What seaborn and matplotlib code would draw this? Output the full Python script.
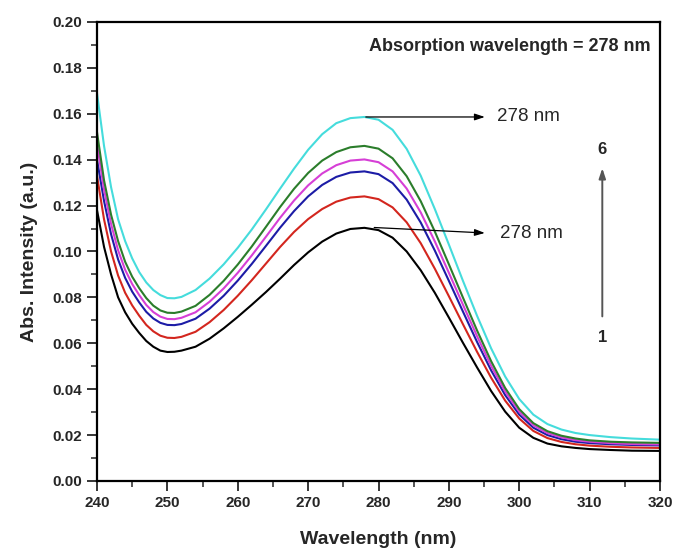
import numpy as np
import pandas as pd
import matplotlib
matplotlib.use("Agg")
import matplotlib.pyplot as plt
from matplotlib.ticker import MultipleLocator
import seaborn as sns

wavelength = [240, 241, 242, 243, 244, 245, 246, 247, 248, 249, 250, 251, 252, 254, 256, 258,
              260, 262, 264, 266, 268, 270, 272, 274, 276, 278, 280, 282, 284, 286, 288, 290,
              292, 294, 296, 298, 300, 302, 304, 306, 308, 310, 313, 316, 320]

abs_1 = [0.118, 0.102, 0.090, 0.080, 0.0735, 0.0685, 0.0645, 0.061, 0.0585, 0.0568, 0.0562, 0.0563,
         0.0568, 0.0585, 0.0620, 0.0665, 0.0715, 0.0768, 0.0823, 0.0881, 0.0941, 0.0996, 0.1043, 0.1078,
         0.1098, 0.1103, 0.1093, 0.1060, 0.1000, 0.0918, 0.0820, 0.0712, 0.0602, 0.0495, 0.0392, 0.0302,
         0.0232, 0.0188, 0.0163, 0.0151, 0.0144, 0.0139, 0.0135, 0.0132, 0.0131]
abs_2 = [0.133, 0.114, 0.100, 0.0895, 0.082, 0.0765, 0.072, 0.068, 0.0652, 0.0633, 0.0624, 0.0623,
         0.0628, 0.0650, 0.0692, 0.0745, 0.0807, 0.0875, 0.0947, 0.1019, 0.1085, 0.1141, 0.1185, 0.1217,
         0.1235, 0.1240, 0.1228, 0.1192, 0.1127, 0.1036, 0.0925, 0.0805, 0.0683, 0.0563, 0.0450, 0.0350,
         0.0272, 0.0218, 0.0187, 0.0170, 0.0160, 0.0154, 0.0149, 0.0146, 0.0144]
abs_3 = [0.140, 0.122, 0.1075, 0.0965, 0.0885, 0.0825, 0.0778, 0.0737, 0.0708, 0.0689, 0.0680, 0.0679,
         0.0684, 0.0707, 0.0751, 0.0807, 0.0873, 0.0946, 0.1024, 0.1103, 0.1176, 0.1240, 0.1290, 0.1325,
         0.1344, 0.1349, 0.1337, 0.1298, 0.1226, 0.1126, 0.1004, 0.0872, 0.0738, 0.0606, 0.0482, 0.0374,
         0.0289, 0.0232, 0.0200, 0.0182, 0.0171, 0.0165, 0.0160, 0.0157, 0.0155]
abs_4 = [0.147, 0.127, 0.112, 0.1005, 0.092, 0.0858, 0.081, 0.0767, 0.0736, 0.0716, 0.0706, 0.0705,
         0.0711, 0.0735, 0.0781, 0.0839, 0.0907, 0.0983, 0.1064, 0.1146, 0.1222, 0.1288, 0.1340, 0.1376,
         0.1396, 0.1401, 0.1389, 0.1349, 0.1274, 0.1170, 0.1044, 0.0907, 0.0768, 0.0631, 0.0502, 0.0390,
         0.0302, 0.0243, 0.0209, 0.0190, 0.0178, 0.0171, 0.0165, 0.0161, 0.0159]
abs_5 = [0.152, 0.131, 0.116, 0.1045, 0.0955, 0.089, 0.084, 0.0797, 0.0764, 0.0743, 0.0733, 0.0732,
         0.0738, 0.0763, 0.0811, 0.0872, 0.0943, 0.1022, 0.1107, 0.1193, 0.1273, 0.1342, 0.1396, 0.1433,
         0.1454, 0.1460, 0.1448, 0.1406, 0.1328, 0.1219, 0.1087, 0.0944, 0.0799, 0.0656, 0.0522, 0.0405,
         0.0313, 0.0252, 0.0217, 0.0197, 0.0185, 0.0177, 0.0171, 0.0168, 0.0166]
abs_6 = [0.169, 0.146, 0.128, 0.114, 0.1045, 0.097, 0.091, 0.0865, 0.0832, 0.081, 0.0797, 0.0796,
         0.0802, 0.0832, 0.0882, 0.0944, 0.1016, 0.1096, 0.1183, 0.1273, 0.1361, 0.1443, 0.1511, 0.1559,
         0.1581, 0.1586, 0.1574, 0.1530, 0.1447, 0.1330, 0.1185, 0.1030, 0.0872, 0.0720, 0.0578, 0.0455,
         0.0357, 0.0289, 0.0248, 0.0224, 0.0209, 0.0200, 0.0191, 0.0185, 0.0180]

samples = ["1", "2", "3", "4", "5", "6"]
colors = ["#000000", "#d3261e", "#1c1ca6", "#d63fd6", "#2b7d2b", "#45dcdc"]

x_ticks = [240, 250, 260, 270, 280, 290, 300, 310, 320]
y_ticks = [0.00, 0.02, 0.04, 0.06, 0.08, 0.10, 0.12, 0.14, 0.16, 0.18, 0.20]

series = [abs_1, abs_2, abs_3, abs_4, abs_5, abs_6]
df = pd.concat([pd.DataFrame({"Wavelength": wavelength, "Abs": s, "Sample": name})
                for s, name in zip(series, samples)], ignore_index=True)

sns.set_style("ticks")
plt.rcParams["font.family"] = ["Liberation Sans", "DejaVu Sans"]

fig = plt.figure(figsize=(6.75, 5.49), dpi=100)
ax = fig.add_axes([0.1437, 0.1239, 0.8341, 0.8361])

sns.lineplot(data=df, x="Wavelength", y="Abs", hue="Sample", palette=colors,
             hue_order=samples, legend=False, ax=ax, linewidth=1.5, sort=False,
             estimator=None)

ax.set_xlim(240, 320)
ax.set_ylim(0, 0.20)
ax.set_xticks(x_ticks)
ax.set_yticks(y_ticks)
ax.set_xticklabels([str(v) for v in x_ticks])
ax.set_yticklabels([f"{v:.2f}" for v in y_ticks])
ax.xaxis.set_minor_locator(MultipleLocator(5))
ax.yaxis.set_minor_locator(MultipleLocator(0.01))
ax.tick_params(which="major", direction="out", length=7, width=1.3, labelsize=11, pad=4)
ax.tick_params(which="minor", direction="out", length=4, width=1.1)
ax.tick_params(top=False, right=False, which="both")
for lab in ax.get_xticklabels() + ax.get_yticklabels():
    lab.set_fontweight("bold")
for sp in ax.spines.values():
    sp.set_visible(True)
    sp.set_linewidth(1.6)
    sp.set_color("black")

ax.set_xlabel("Wavelength (nm)", fontsize=14, fontweight="bold", labelpad=15)
ax.set_ylabel("Abs. Intensity (a.u.)", fontsize=14, fontweight="bold", labelpad=10)

ax.text(318.7, 0.1895, "Absorption wavelength = 278 nm", fontsize=13, fontweight="bold",
        ha="right", va="center")

arrow_kw = dict(arrowstyle="-|>,head_length=0.6,head_width=0.2", color="black", lw=0.9)
ax.annotate("", xy=(295.5, 0.1586), xytext=(277.8, 0.1586), arrowprops=arrow_kw)
ax.text(296.8, 0.1586, "278 nm", fontsize=13.5, ha="left", va="center")
ax.annotate("", xy=(295.5, 0.1080), xytext=(279.0, 0.1105), arrowprops=arrow_kw)
ax.text(297.2, 0.1080, "278 nm", fontsize=13.5, ha="left", va="center")

ax.annotate("", xy=(311.8, 0.1375), xytext=(311.8, 0.0705),
            arrowprops=dict(arrowstyle="-|>,head_length=0.6,head_width=0.2", color="#555555", lw=1.4))
ax.text(311.8, 0.1445, "6", fontsize=12, fontweight="bold", ha="center", va="center")
ax.text(311.8, 0.0623, "1", fontsize=12, fontweight="bold", ha="center", va="center")

fig.savefig("out.png", dpi=100, facecolor="white")
